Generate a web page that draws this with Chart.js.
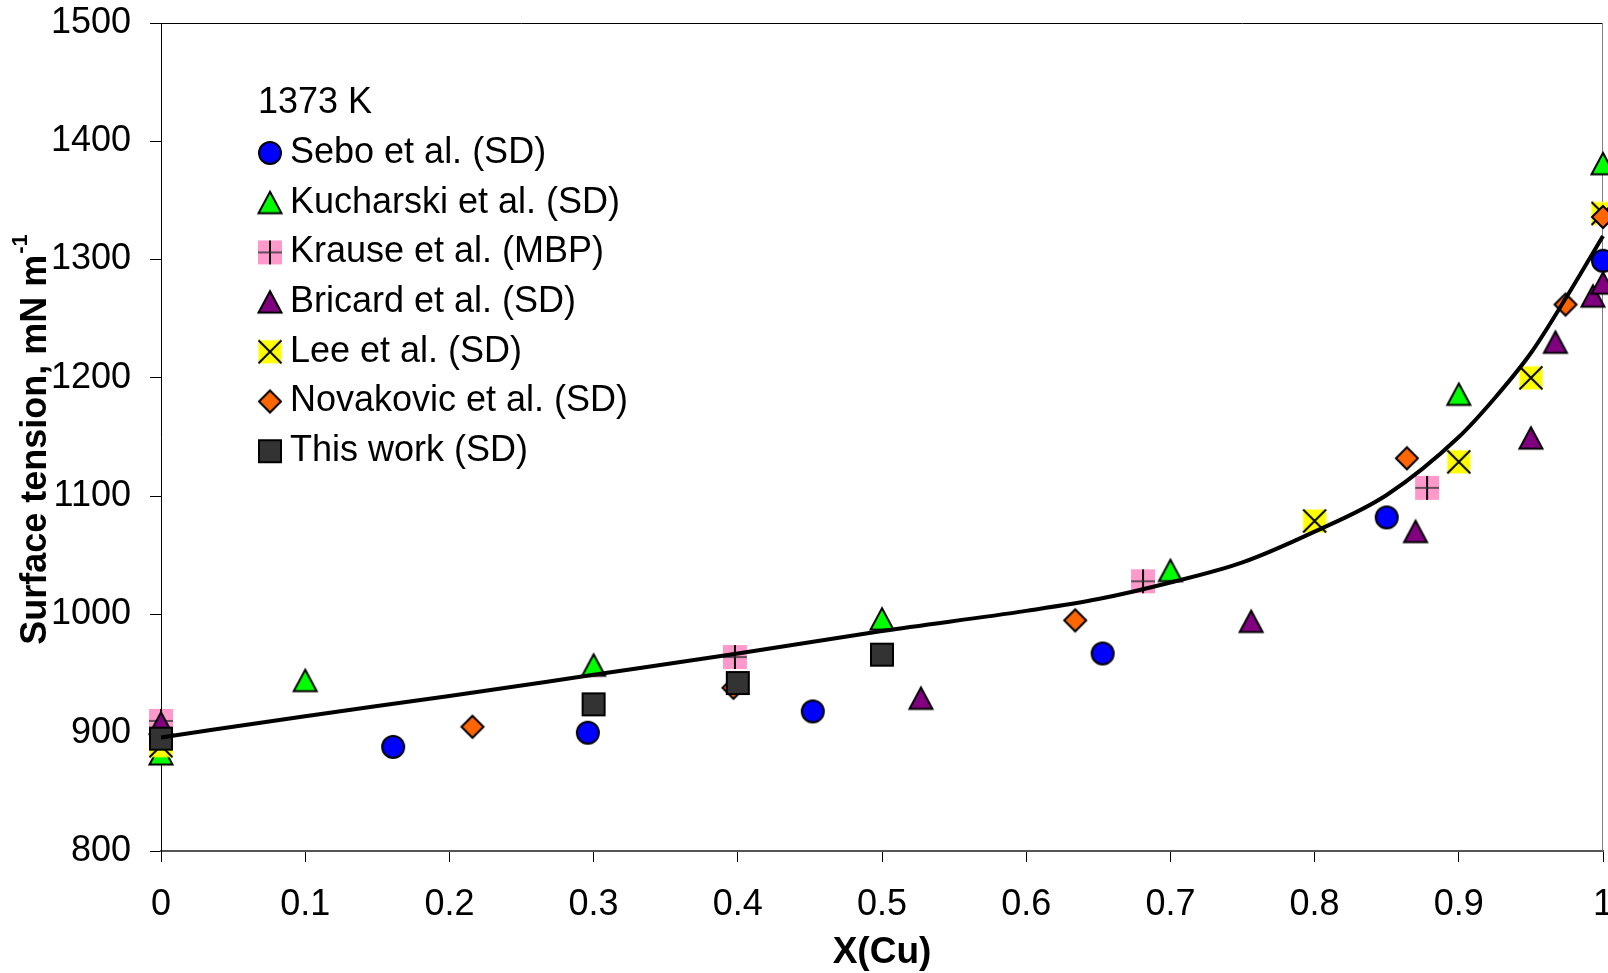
<!DOCTYPE html>
<html>
<head>
<meta charset="utf-8">
<script src="https://cdn.jsdelivr.net/npm/chart.js@4.4.1/dist/chart.umd.min.js"></script>
<style>
  html, body { margin: 0; padding: 0; background: #fff; }
  #wrap { width: 1608px; height: 973px; }
</style>
</head>
<body>
<div id="wrap"><canvas id="chart" width="1608" height="973"></canvas></div>
<script>
// values (surface tension in mN/m vs. mole fraction of Cu)
const legendTitle = "1373 K";

const xSebo = [0.161, 0.296, 0.452, 0.653, 0.850, 1.0];
const ySebo = [888, 900, 918, 967, 1082, 1299];

const xKucharski = [0, 0.1, 0.3, 0.5, 0.7, 0.9, 1.0];
const yKucharski = [882, 944, 957, 996, 1037, 1186, 1381];

const xKrause = [0, 0.398, 0.681, 0.878];
const yKrause = [910, 964, 1028, 1107];

const xBricard = [0, 0.527, 0.756, 0.870, 0.950, 0.967, 0.993, 1.0];
const yBricard = [908, 929, 994, 1070, 1149, 1230, 1269, 1280];

const xLee = [0, 0.8, 0.9, 0.95, 1.0];
const yLee = [889, 1079, 1129, 1200, 1339];

const xNovakovic = [0.216, 0.397, 0.634, 0.864, 0.974, 1.0];
const yNovakovic = [905, 938, 995, 1132, 1262, 1336];

const xThisWork = [0, 0.3, 0.4, 0.5];
const yThisWork = [895, 924, 942, 966];

// calculated curve
const xFit = [0, 0.1, 0.2, 0.3, 0.4, 0.5, 0.6, 0.65, 0.7, 0.75, 0.8, 0.85, 0.9, 0.925, 0.95, 0.975, 1.0];
const yFit = [896, 914, 931, 949, 967, 986, 1003, 1013, 1027, 1044, 1070, 1101, 1150, 1183, 1221, 1269, 1320];

const xTicks = [0, 0.1, 0.2, 0.3, 0.4, 0.5, 0.6, 0.7, 0.8, 0.9, 1];
const xTickLabels = ["0", "0.1", "0.2", "0.3", "0.4", "0.5", "0.6", "0.7", "0.8", "0.9", "1"];
const yTicks = [800, 900, 1000, 1100, 1200, 1300, 1400, 1500];

const FONT = "'Liberation Sans', Arial, sans-serif";

// excel-like marker images
function makeMarker(kind, fill) {
    const c = document.createElement("canvas");
    c.width = 30;
    c.height = 30;
    const g = c.getContext("2d");
    const m = 15;
    g.lineWidth = 2;
    g.strokeStyle = "#000";
    g.fillStyle = fill;
    g.lineJoin = "miter";
    g.beginPath();
    if (kind === "circle") {
        g.arc(m, m, 11, 0, Math.PI * 2);
        g.fill();
        g.stroke();
    } else if (kind === "triangle") {
        g.moveTo(m, m - 11);
        g.lineTo(m + 11.5, m + 10.5);
        g.lineTo(m - 11.5, m + 10.5);
        g.closePath();
        g.fill();
        g.stroke();
    } else if (kind === "diamond") {
        g.moveTo(m, m - 11);
        g.lineTo(m + 11, m);
        g.lineTo(m, m + 11);
        g.lineTo(m - 11, m);
        g.closePath();
        g.fill();
        g.stroke();
    } else if (kind === "square") {
        g.rect(m - 11, m - 11, 22, 22);
        g.fill();
        g.stroke();
    } else if (kind === "plus") {
        g.fillRect(m - 12, m - 12, 24, 24);
        g.lineWidth = 2;
        g.moveTo(m, m - 12);
        g.lineTo(m, m + 12);
        g.stroke();
        g.beginPath();
        g.lineWidth = 1.5;
        g.strokeStyle = "#333";
        g.moveTo(m - 12, m);
        g.lineTo(m + 12, m);
        g.stroke();
    } else if (kind === "cross") {
        g.fillRect(m - 11.5, m - 11.5, 23, 23);
        g.moveTo(m - 11.5, m - 11.5);
        g.lineTo(m + 11.5, m + 11.5);
        g.moveTo(m + 11.5, m - 11.5);
        g.lineTo(m - 11.5, m + 11.5);
        g.stroke();
    }
    return c;
}

const markers = {
    sebo: makeMarker("circle", "#0000FF"),
    kucharski: makeMarker("triangle", "#00FF00"),
    krause: makeMarker("plus", "#FF99CC"),
    bricard: makeMarker("triangle", "#800080"),
    lee: makeMarker("cross", "#FFFF00"),
    novakovic: makeMarker("diamond", "#FF6600"),
    thisWork: makeMarker("square", "#333333"),
};

function toPoints(xs, ys) {
    return xs.map((x, i) => ({ x: x, y: ys[i] }));
}

function pointSeries(label, xs, ys, marker, order) {
    return {
        label: label,
        data: toPoints(xs, ys),
        pointStyle: marker,
        pointRadius: 12,
        showLine: false,
        clip: false,
        order: order,
    };
}

const datasets = [
    pointSeries("Sebo et al. (SD)", xSebo, ySebo, markers.sebo, 7),
    pointSeries("Kucharski et al. (SD)", xKucharski, yKucharski, markers.kucharski, 6),
    pointSeries("Krause et al. (MBP)", xKrause, yKrause, markers.krause, 5),
    pointSeries("Bricard et al. (SD)", xBricard, yBricard, markers.bricard, 4),
    pointSeries("Lee et al. (SD)", xLee, yLee, markers.lee, 3),
    pointSeries("Novakovic et al. (SD)", xNovakovic, yNovakovic, markers.novakovic, 2),
    pointSeries("This work (SD)", xThisWork, yThisWork, markers.thisWork, 1),
    {
        label: "fit",
        data: toPoints(xFit, yFit),
        showLine: true,
        borderColor: "#000",
        borderWidth: 4,
        pointRadius: 0,
        cubicInterpolationMode: "monotone",
        clip: false,
        order: 0,
    },
];

// plot frame, in-plot legend and y title with superscript
const decorPlugin = {
    id: "decor",
    beforeDatasetsDraw(chart) {
        const { ctx, chartArea: a } = chart;
        ctx.save();
        ctx.lineWidth = 1;
        ctx.strokeStyle = "#000";
        ctx.beginPath();
        ctx.moveTo(a.left, a.top + 0.5);
        ctx.lineTo(a.right, a.top + 0.5);
        ctx.stroke();
        ctx.strokeStyle = "#808080";
        ctx.beginPath();
        ctx.moveTo(a.right - 0.5, a.top);
        ctx.lineTo(a.right - 0.5, a.bottom);
        ctx.stroke();
        ctx.restore();
    },
    afterDraw(chart) {
        const { ctx } = chart;
        ctx.save();
        ctx.fillStyle = "#000";
        ctx.font = "36px " + FONT;
        ctx.textAlign = "left";
        ctx.textBaseline = "alphabetic";
        ctx.fillText(legendTitle, 258, 113);

        ctx.textBaseline = "middle";
        chart.data.datasets.slice(0, 7).forEach((ds, i) => {
            const y = 153 + i * 49.7;
            const img = ds.pointStyle;
            ctx.drawImage(img, 270 - img.width / 2, y - img.height / 2);
            ctx.fillText(ds.label, 290, y);
        });

        // y axis title
        const main = "Surface tension, mN m";
        const sup = "-1";
        ctx.translate(36, 440);
        ctx.rotate(-Math.PI / 2);
        ctx.font = "bold 36px " + FONT;
        const w1 = ctx.measureText(main).width;
        ctx.font = "bold 22px " + FONT;
        const w2 = ctx.measureText(sup).width;
        const x0 = -(w1 + w2) / 2;
        ctx.font = "bold 36px " + FONT;
        ctx.fillText(main, x0, 0);
        ctx.font = "bold 22px " + FONT;
        ctx.fillText(sup, x0 + w1 + 1, -15);
        ctx.restore();
    },
};

new Chart(document.getElementById("chart"), {
    type: "scatter",
    data: { datasets: datasets },
    plugins: [decorPlugin],
    options: {
        responsive: false,
        animation: false,
        events: [],
        layout: { autoPadding: false, padding: { left: 0, top: 23, right: 5, bottom: 0 } },
        plugins: {
            legend: { display: false },
            tooltip: { enabled: false },
        },
        scales: {
            x: {
                type: "linear",
                min: 0,
                max: 1,
                afterBuildTicks: (scale) => {
                    scale.ticks = xTicks.map((v) => ({ value: v }));
                },
                afterFit: (scale) => {
                    scale.height = 122;
                    scale.paddingLeft = 0;
                    scale.paddingRight = 0;
                },
                ticks: {
                    color: "#000",
                    font: { family: FONT, size: 36, lineHeight: 1.2 },
                    padding: 21,
                    maxRotation: 0,
                    autoSkip: false,
                    callback: (v, i) => xTickLabels[i],
                },
                grid: {
                    drawOnChartArea: false,
                    drawTicks: true,
                    tickLength: 11,
                    tickColor: "#000",
                    tickWidth: 1,
                },
                border: { color: "#555", width: 2 },
                title: {
                    display: true,
                    text: "X(Cu)",
                    color: "#000",
                    font: { family: FONT, size: 37, weight: "bold", lineHeight: 1 },
                    padding: { top: 0, bottom: 2 },
                },
            },
            y: {
                type: "linear",
                min: 800,
                max: 1500,
                afterBuildTicks: (scale) => {
                    scale.ticks = yTicks.map((v) => ({ value: v }));
                },
                afterFit: (scale) => {
                    scale.width = 161;
                    scale.paddingTop = 0;
                    scale.paddingBottom = 0;
                },
                ticks: {
                    color: "#000",
                    font: { family: FONT, size: 36 },
                    padding: 19,
                    callback: (v) => String(v),
                },
                grid: {
                    drawOnChartArea: false,
                    drawTicks: true,
                    tickLength: 11,
                    tickColor: "#000",
                    tickWidth: 1,
                },
                border: { color: "#000", width: 1 },
            },
        },
    },
});
</script>
</body>
</html>
